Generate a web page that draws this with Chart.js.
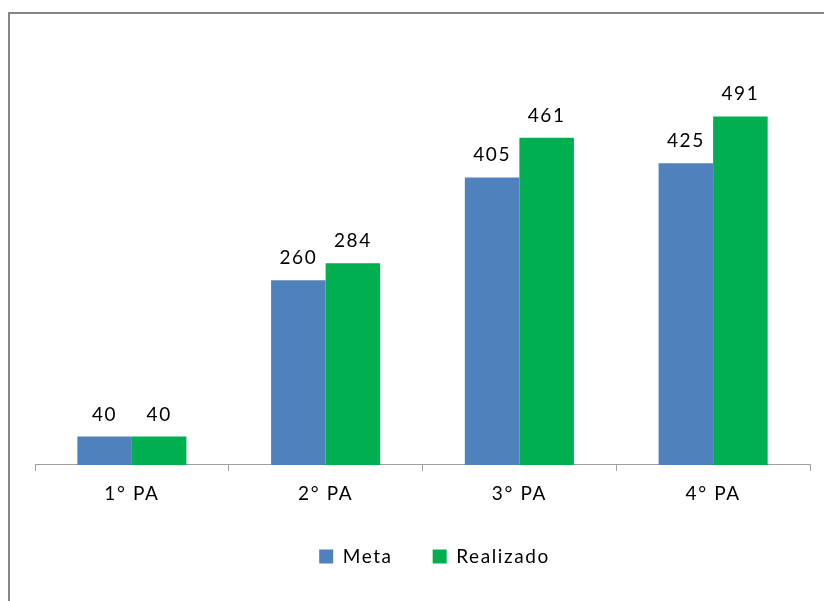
<!DOCTYPE html>
<html lang="pt">
<head>
  <meta charset="UTF-8" />
  <title>Meta x Realizado</title>
  <script src="https://cdn.jsdelivr.net/npm/chart.js"></script>
  <style>
    html, body { margin: 0; padding: 0; background: #fff; overflow: hidden; }
    .frame {
      position: absolute;
      left: 8px;
      top: 12px;
      width: 854px;
      height: 620px;
      border: 2px solid #868686;
    }
    #chart { display: block; }
  </style>
</head>
<body>
  <div class="frame">
    <canvas id="chart" width="854" height="620"></canvas>
  </div>

  <script>
    const categories = ["1° PA", "2° PA", "3° PA", "4° PA"];
    const metaValues = [40, 260, 405, 425];
    const realizadoValues = [40, 284, 461, 491];

    const FONT = "Lato, 'Open Sans', sans-serif";
    const SPACING = "1.6px";

    // wider letter spacing, closer to the original Calibri look
    const spacing = {
      id: "spacing",
      beforeLayout(chart) { chart.ctx.letterSpacing = SPACING; },
      beforeDraw(chart) { chart.ctx.letterSpacing = SPACING; }
    };

    // pull the legend a little closer to the axis labels
    const legendNudge = {
      id: "legendNudge",
      afterLayout(chart) {
        const lg = chart.legend;
        if (lg) {
          lg.top -= 10;
          lg.bottom -= 10;
          lg.left += 12;
          lg.right += 12;
        }
      }
    };

    // value labels above each bar
    const valueLabels = {
      id: "valueLabels",
      afterDatasetsDraw(chart) {
        const ctx = chart.ctx;
        ctx.save();
        ctx.font = "19px " + FONT;
        ctx.fillStyle = "#000";
        ctx.textAlign = "center";
        ctx.textBaseline = "alphabetic";
        chart.data.datasets.forEach((ds, i) => {
          chart.getDatasetMeta(i).data.forEach((bar, j) => {
            ctx.fillText(String(ds.data[j]), bar.x, bar.y - 16);
          });
        });
        ctx.restore();
      }
    };

    new Chart(document.getElementById("chart"), {
      type: "bar",
      data: {
        labels: categories,
        datasets: [
          { label: "Meta", data: metaValues, backgroundColor: "#4F81BD" },
          { label: "Realizado", data: realizadoValues, backgroundColor: "#00B050" }
        ]
      },
      options: {
        responsive: false,
        animation: false,
        layout: { padding: { left: 25, right: 54, top: 25, bottom: 48 } },
        datasets: { bar: { categoryPercentage: 0.563, barPercentage: 1.0 } },
        scales: {
          x: {
            grid: { drawOnChartArea: false, drawTicks: true, tickLength: 6, color: "#A0A0A0" },
            border: { color: "#A0A0A0", width: 1 },
            ticks: { color: "#000", font: { family: FONT, size: 19, lineHeight: 0.95 }, padding: 14 }
          },
          y: {
            display: false,
            min: 0,
            max: 600
          }
        },
        plugins: {
          legend: {
            position: "bottom",
            labels: {
              color: "#000",
              font: { family: FONT, size: 19 },
              boxWidth: 14,
              boxHeight: 14,
              padding: 40
            }
          },
          tooltip: { enabled: false }
        }
      },
      plugins: [spacing, legendNudge, valueLabels]
    });
  </script>
</body>
</html>
